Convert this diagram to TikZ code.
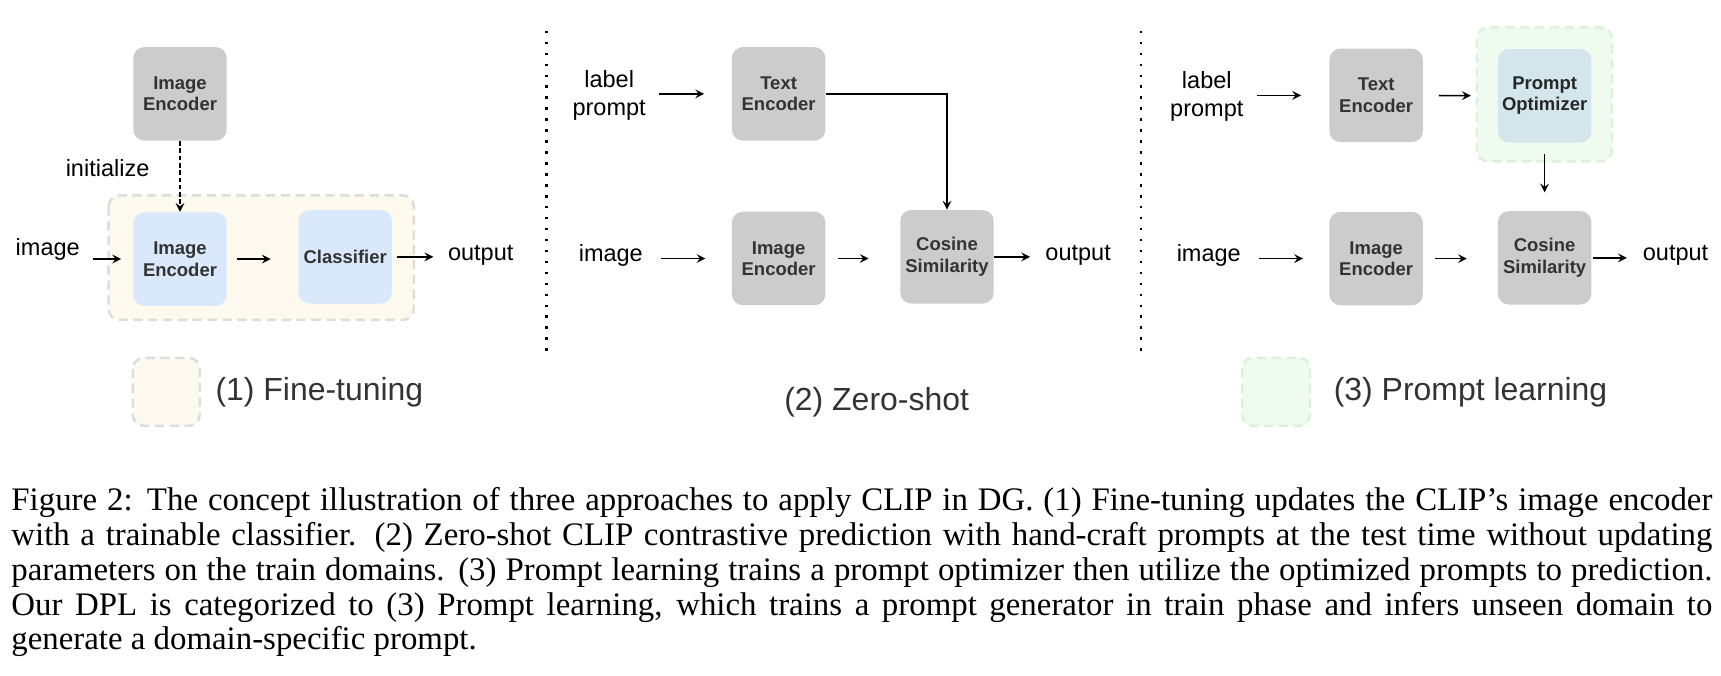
\documentclass[tikz,border=0pt]{standalone}
\usepackage{fontspec}
\setmainfont{Liberation Serif}
\newfontfamily\diagfont{Liberation Sans}
\usetikzlibrary{positioning, arrows.meta}

\definecolor{boxgray}{HTML}{CCCCCC}
\definecolor{boxblue}{HTML}{DAE8FC}
\definecolor{boxteal}{HTML}{D3E6EC}
\definecolor{creamfill}{HTML}{FDF9EE}
\definecolor{creamline}{HTML}{DDDDDD}
\definecolor{greenfill}{HTML}{F0FBEF}
\definecolor{greenline}{HTML}{DCF2D8}
\definecolor{labelgray}{HTML}{333333}

\begin{document}
\begin{tikzpicture}[x=0.0169cm, y=-0.0169cm,
    encbox/.style={rounded corners=1.7mm, minimum width=1.44cm, minimum height=1.44cm, align=center, inner sep=1pt, text=labelgray, font=\diagfont\fontsize{8.1}{9.4}\selectfont\bfseries},
    graybox/.style={encbox, fill=boxgray},
    bluebox/.style={encbox, fill=boxblue},
    iotext/.style={inner sep=0pt, align=center, font=\diagfont\fontsize{10.3}{12.4}\selectfont},
    paneltitle/.style={inner sep=0pt, text=labelgray, font=\diagfont\fontsize{14}{16}\selectfont},
    arr/.style={->, >=stealth, line width=0.7pt},
    creamzone/.style={draw=creamline, fill=creamfill, line width=1.1pt, dash pattern=on 4pt off 2.5pt, rounded corners=1.7mm},
    greenzone/.style={draw=greenline, fill=greenfill, line width=1.1pt, dash pattern=on 4pt off 2.5pt, rounded corners=1.7mm},
    divider/.style={line width=1.1pt, dash pattern=on 1.1pt off 3.7pt},
    capline/.style={anchor=base west, inner sep=0pt, font=\fontsize{14.4}{16}\selectfont}]
    \useasboundingbox (0,0) rectangle (1568,615);

    % (1) Fine-tuning
    \draw[creamzone] (99,178) rectangle (377,291.5);
    \node (enc0) [graybox] at (164,85.5) {Image\\Encoder};
    \node (enc1) [bluebox] at (164,236) {Image\\Encoder};
    \node (cls) [bluebox] at (314.5,234) {Classifier};
    \node (img1) [iotext] at (43.5,227) {image};
    \node (out1) [iotext] at (438,233) {output};
    \node (init) [iotext] at (98,153) {initialize};
    \draw[arr, dash pattern=on 2pt off 1.2pt] (enc0) -- (enc1);
    \draw[arr, shorten <=0.19cm, shorten >=0.18cm] (img1.east |- enc1) -- (enc1);
    \draw[arr, shorten <=0.15cm, shorten >=0.42cm] (enc1.east) -- (enc1.east -| cls.west);
    \draw[arr, shorten <=0.07cm, shorten >=0.22cm] (cls.east) -- (cls.east -| out1.west);
    \draw[creamzone] (121,326) rectangle (182,388);
    \node (title1) [paneltitle] at (291,357) {(1) Fine-tuning};

    \draw[divider] (498,28) -- (498,326);

    % (2) Zero-shot
    \node (te2) [graybox] at (709.4,85.5) {Text\\Encoder};
    \node (ie2) [graybox] at (709.4,235.5) {Image\\Encoder};
    \node (cs2) [graybox] at (862.8,234) {Cosine\\Similarity};
    \node (lp2) [iotext] at (555,87) {label\\prompt};
    \node (img2) [iotext] at (556.5,233) {image};
    \node (out2) [iotext] at (982.3,233) {output};
    \draw[arr, shorten <=0.2cm, shorten >=0.42cm] (lp2.east |- te2) -- (te2);
    \draw[arr] (te2.east) -| (cs2.north);
    \draw[arr, shorten <=0.28cm, shorten >=0.4cm] (img2.east |- ie2) -- (ie2);
    \draw[arr, shorten <=0.19cm, shorten >=0.48cm] (ie2.east) -- (ie2.east -| cs2.west);
    \draw[arr, shorten >=0.23cm] (cs2.east) -- (cs2.east -| out2.west);
    \node (title2) [paneltitle] at (798.7,366.7) {(2) Zero-shot};

    \draw[divider] (1039.6,28) -- (1039.6,326);

    % (3) Prompt learning
    \draw[greenzone] (1345.6,25) rectangle (1468.6,147);
    \node (te3) [graybox] at (1253.8,86.9) {Text\\Encoder};
    \node (po) [encbox, fill=boxteal, text=black!85] at (1407.3,87.3) {Prompt\\Optimizer};
    \node (ie3) [graybox] at (1253.8,235.6) {Image\\Encoder};
    \node (cs3) [graybox] at (1407.3,234.9) {Cosine\\Similarity};
    \node (lp3) [iotext] at (1099.5,88) {label\\prompt};
    \node (img3) [iotext] at (1101.3,233) {image};
    \node (out3) [iotext] at (1526.6,233) {output};
    \draw[arr, shorten <=0.21cm, shorten >=0.43cm] (lp3.east |- te3) -- (te3);
    \draw[arr, shorten <=0.24cm, shorten >=0.41cm] (te3) -- (po);
    \draw[arr, shorten <=0.17cm, shorten >=0.28cm] (po) -- (cs3);
    \draw[arr, shorten <=0.27cm, shorten >=0.4cm] (img3.east |- ie3) -- (ie3);
    \draw[arr, shorten <=0.18cm, shorten >=0.47cm] (ie3.east) -- (ie3.east -| cs3.west);
    \draw[arr, shorten <=0.02cm, shorten >=0.24cm] (cs3.east) -- (cs3.east -| out3.west);
    \draw[greenzone] (1131.6,326) rectangle (1193.5,388);
    \node (title3) [paneltitle] at (1339.8,357.6) {(3) Prompt learning};

    % caption
    \node (cap1) [capline] at (10,465) {\makebox[26.2cm][s]{Figure 2: The concept illustration of three approaches to apply CLIP in DG. (1) Fine-tuning updates the CLIP’s image encoder}};
    \node (cap2) [capline] at (10,496.8) {\makebox[26.2cm][s]{with a trainable classifier. (2) Zero-shot CLIP contrastive prediction with hand-craft prompts at the test time without updating}};
    \node (cap3) [capline] at (10,528.6) {\makebox[26.2cm][s]{parameters on the train domains. (3) Prompt learning trains a prompt optimizer then utilize the optimized prompts to prediction.}};
    \node (cap4) [capline] at (10,560.4) {\makebox[26.2cm][s]{Our DPL is categorized to (3) Prompt learning, which trains a prompt generator in train phase and infers unseen domain to}};
    \node (cap5) [capline] at (10,592.2) {generate a domain-specific prompt.};
\end{tikzpicture}
\end{document}
